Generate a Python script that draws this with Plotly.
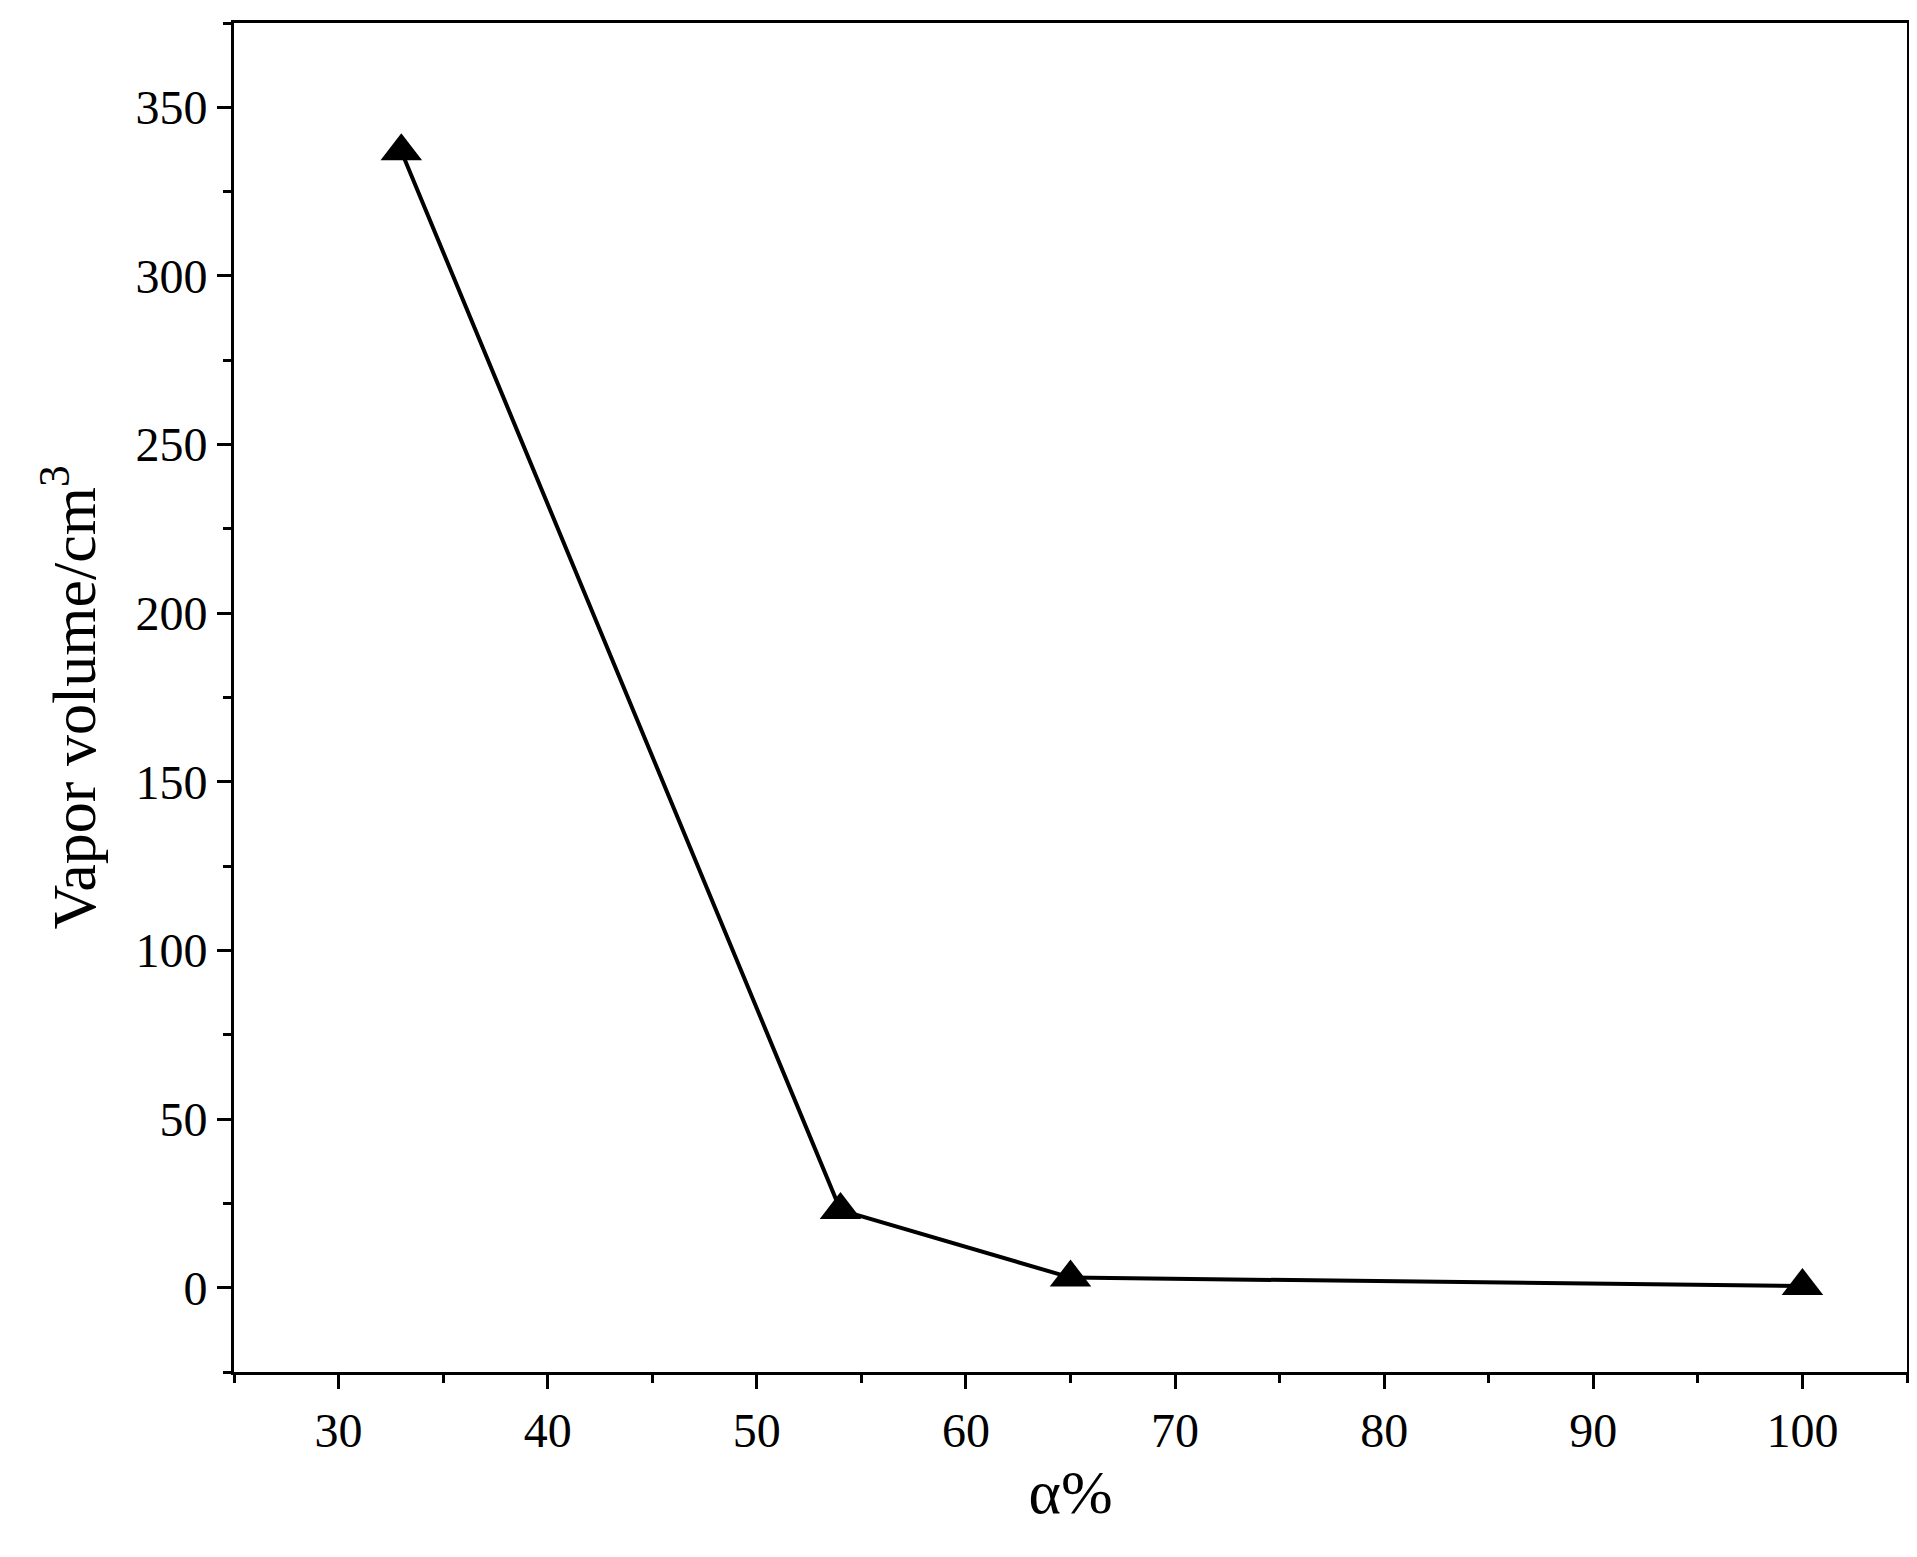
import plotly.graph_objects as go

alpha = [33, 54, 65, 100]
vapor = [337, 23, 3, 0.5]
x_ticks = [30, 40, 50, 60, 70, 80, 90, 100]
y_ticks = [0, 50, 100, 150, 200, 250, 300, 350]

fig = go.Figure(go.Scatter(
    x=alpha, y=vapor, mode="lines+markers",
    line=dict(color="black", width=4),
    marker=dict(symbol="triangle-up", size=36, color="black"),
))
font = dict(family="Liberation Serif", size=48, color="black")
tfont = dict(family="Liberation Serif", size=62, color="black")
common = dict(showline=True, linecolor="black", linewidth=3, mirror=True,
              ticks="outside", ticklen=14, tickwidth=3, tickcolor="black",
              showgrid=False, zeroline=False, tickfont=font)
fig.update_xaxes(range=[25, 105], tickvals=x_ticks, title=dict(text="α%", font=tfont),
                 minor=dict(ticks="outside", ticklen=8, tickwidth=3, tickcolor="black", dtick=5, tick0=0),
                 **common)
fig.update_yaxes(range=[-25, 375], tickvals=y_ticks,
                 title=dict(text="Vapor volume/cm<sup>3</sup>", font=tfont, standoff=20),
                 minor=dict(ticks="outside", ticklen=8, tickwidth=3, tickcolor="black", dtick=25, tick0=0),
                 **common)
fig.update_layout(width=1917, height=1557, plot_bgcolor="white", paper_bgcolor="white",
                  margin=dict(l=226, r=18, t=15, b=193), showlegend=False)
fig.write_html("out.html")
